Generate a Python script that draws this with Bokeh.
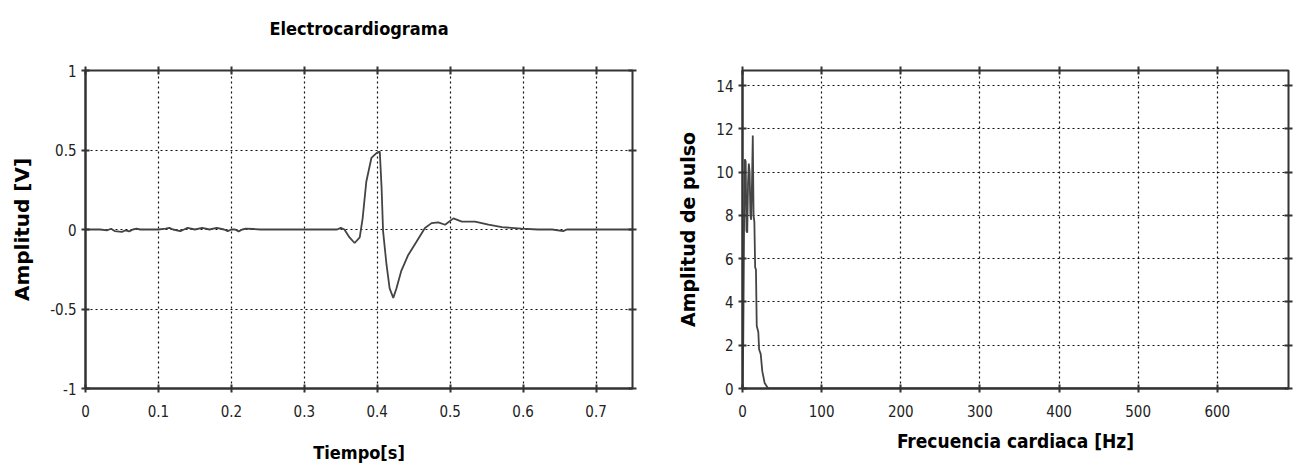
from bokeh.plotting import figure
from bokeh.layouts import row
from bokeh.models import Range1d, LinearAxis, FixedTicker
from bokeh.embed import file_html
from bokeh.resources import INLINE

# ---- data: ECG (time in s, amplitude in V) ----
ecg_t = [0.00, 0.02, 0.03, 0.035, 0.04, 0.05, 0.055, 0.06, 0.065, 0.07, 0.075, 0.10,
         0.11, 0.115, 0.12, 0.13, 0.135, 0.14, 0.15, 0.16, 0.17, 0.18, 0.19, 0.195,
         0.20, 0.205, 0.21, 0.215, 0.22, 0.23, 0.24, 0.30, 0.33, 0.345, 0.35, 0.355,
         0.362, 0.369, 0.376, 0.380, 0.385, 0.392, 0.399, 0.4035, 0.406, 0.408, 0.4127,
         0.417, 0.422, 0.4264, 0.433, 0.4425, 0.454, 0.4654, 0.4745, 0.4837, 0.493,
         0.5044, 0.516, 0.534, 0.5525, 0.571, 0.598, 0.62, 0.64, 0.655, 0.66, 0.75]
ecg_v = [0.0, 0.0, -0.005, 0.005, -0.01, -0.015, -0.005, -0.012, 0.0, 0.005, 0.0, 0.0,
         0.005, 0.01, 0.0, -0.01, 0.0, 0.01, 0.0, 0.01, 0.0, 0.01, 0.0, -0.01,
         0.0, 0.0, -0.012, 0.0, 0.005, 0.003, 0.0, 0.0, 0.0, 0.0, 0.01, 0.0,
         -0.05, -0.085, -0.05, 0.07, 0.30, 0.45, 0.48, 0.49, 0.26, -0.01, -0.22,
         -0.37, -0.43, -0.37, -0.26, -0.16, -0.075, 0.01, 0.04, 0.045, 0.03,
         0.07, 0.05, 0.05, 0.03, 0.015, 0.005, 0.0, 0.0, -0.01, 0.0, 0.0]

# ---- data: spectrum (frequency in Hz, pulse amplitude) ----
spec_f = [0, 1, 2, 3, 4, 5, 6, 7, 8, 9, 10, 11, 12, 13, 14, 15, 16, 17, 18, 20,
          21, 23, 25, 28, 32, 35, 690]
spec_a = [0, 2.3, 7.5, 10.6, 10.5, 7.3, 7.2, 9.5, 10.4, 10.0, 8.0, 7.8, 9.5, 11.7,
          8.0, 7.7, 5.6, 5.5, 2.9, 2.6, 1.8, 1.6, 0.8, 0.25, 0.02, 0.0, 0.0]

ecg_xticks = [0, 0.1, 0.2, 0.3, 0.4, 0.5, 0.6, 0.7]
ecg_yticks = [-1, -0.5, 0, 0.5, 1]
ecg_ylabels = {-1: "-1", -0.5: "-0.5", 0: "0", 0.5: "0.5", 1: "1"}
spec_xticks = [0, 100, 200, 300, 400, 500, 600]
spec_yticks = [0, 2, 4, 6, 8, 10, 12, 14]

COND = "DejaVu Sans Condensed"
WIDE = "DejaVu Sans"
DARK = "#333333"


def style(p, xt, yt):
    p.outline_line_color = DARK
    p.outline_line_width = 2
    p.background_fill_color = "white"
    p.border_fill_color = "white"
    for ax in (p.below[0], p.left[0]):
        ax.axis_line_color = DARK
        ax.axis_line_width = 2
        ax.major_tick_in = 4
        ax.major_tick_out = 4
        ax.major_tick_line_color = DARK
        ax.major_tick_line_width = 2
        ax.minor_tick_line_color = None
        ax.major_label_text_font = COND
        ax.major_label_text_font_size = "15px"
        ax.major_label_text_color = "#222222"
        ax.axis_label_text_color = "black"
        ax.axis_label_text_font_style = "bold"
    p.below[0].ticker = FixedTicker(ticks=xt)
    p.left[0].ticker = FixedTicker(ticks=yt)
    p.xgrid.ticker = FixedTicker(ticks=xt)
    p.ygrid.ticker = FixedTicker(ticks=yt)
    for g in p.xgrid + p.ygrid:
        g.grid_line_color = "#111111"
        g.grid_line_dash = "2 3"
        g.grid_line_width = 1.2
    # tick marks on top and right borders
    top = LinearAxis(ticker=FixedTicker(ticks=xt))
    right = LinearAxis(ticker=FixedTicker(ticks=yt))
    for ax in (top, right):
        ax.axis_line_color = None
        ax.major_tick_in = 4
        ax.major_tick_out = 4
        ax.major_tick_line_color = DARK
        ax.major_tick_line_width = 2
        ax.minor_tick_line_color = None
        ax.major_label_text_alpha = 0
        ax.major_label_text_font_size = "1px"
        ax.major_label_standoff = 0
    p.add_layout(top, "above")
    p.add_layout(right, "right")
    return top


# ---- left: ECG ----
p1 = figure(width=658, height=475, output_backend="svg", toolbar_location=None,
            x_range=Range1d(0, 0.75), y_range=Range1d(-1, 1),
            min_border_left=85, min_border_right=26, min_border_top=70, min_border_bottom=87)
p1.title.visible = False
p1.line(ecg_t, ecg_v, line_color="#444444", line_width=1.8)
top1 = style(p1, ecg_xticks, ecg_yticks)
# chart heading, drawn as the label of the top border axis
top1.axis_label = "Electrocardiograma"
top1.axis_label_text_font = COND
top1.axis_label_text_font_size = "18px"
top1.axis_label_text_font_style = "bold"
top1.axis_label_text_color = "black"
top1.axis_label_standoff = 28
xa1, ya1 = p1.below[0], p1.left[0]
ya1.major_label_overrides = ecg_ylabels
xa1.axis_label = "Tiempo[s]"
ya1.axis_label = "Amplitud [V]"
xa1.axis_label_text_font = COND
xa1.axis_label_text_font_size = "18px"
xa1.axis_label_standoff = 22
ya1.axis_label_text_font = WIDE
ya1.axis_label_text_font_size = "20px"
ya1.axis_label_standoff = 13
xa1.major_label_standoff = 12
ya1.major_label_standoff = 5

# ---- right: spectrum ----
p2 = figure(width=637, height=475, output_backend="svg", toolbar_location=None,
            x_range=Range1d(0, 690), y_range=Range1d(0, 14.7),
            min_border_left=84, min_border_right=7, min_border_top=66, min_border_bottom=87)
p2.title.visible = False
p2.line(spec_f, spec_a, line_color="#444444", line_width=1.8)
style(p2, spec_xticks, spec_yticks)
xa2, ya2 = p2.below[0], p2.left[0]
xa2.axis_label = "Frecuencia cardiaca [Hz]"
ya2.axis_label = "Amplitud de pulso"
xa2.axis_label_text_font = COND
xa2.axis_label_text_font_size = "19px"
xa2.axis_label_standoff = 10
ya2.axis_label_text_font = WIDE
ya2.axis_label_text_font_size = "19px"
ya2.axis_label_standoff = 14
xa2.major_label_standoff = 12
ya2.major_label_standoff = 5

layout = row(p1, p2)
open("out.html", "w").write(file_html(layout, INLINE))
